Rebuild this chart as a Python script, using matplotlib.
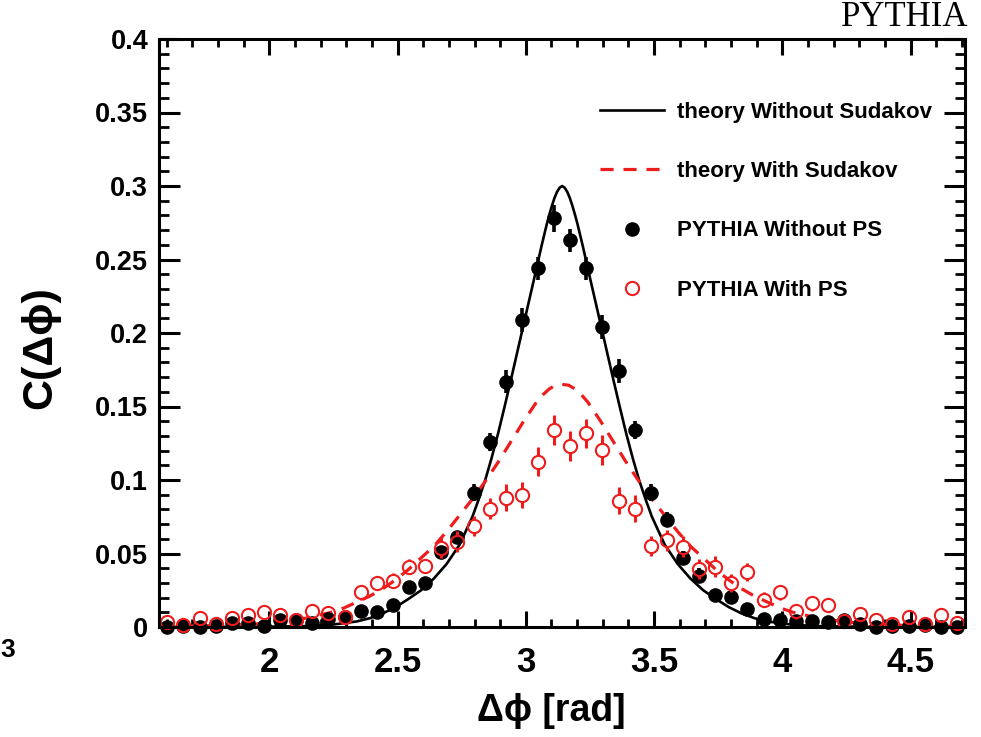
import numpy as np
import matplotlib
matplotlib.use("Agg")
import matplotlib.pyplot as plt
from matplotlib.lines import Line2D
from matplotlib.ticker import MultipleLocator, FixedLocator

# ---------------- data ----------------
n_bins = 50
bin_edges = np.linspace(np.pi / 2, 3 * np.pi / 2, n_bins + 1)
bin_centers = 0.5 * (bin_edges[:-1] + bin_edges[1:])

pythia_no_ps = [0.0003, 0.0007, 0.0000, 0.0005, 0.0025, 0.0027, 0.0010, 0.0048, 0.0048, 0.0030,
                0.0055, 0.0070, 0.0110, 0.0105, 0.0150, 0.0270, 0.0300, 0.0510, 0.0614, 0.0914,
                0.1260, 0.1670, 0.2090, 0.2440, 0.2780, 0.2630, 0.2440, 0.2040, 0.1740, 0.1340,
                0.0914, 0.0730, 0.0470, 0.0350, 0.0215, 0.0205, 0.0120, 0.0057, 0.0048, 0.0040,
                0.0038, 0.0036, 0.0050, 0.0020, 0.0003, 0.0007, 0.0007, 0.0014, 0.0002, 0.0002]
pythia_no_ps_err = [0.002, 0.002, 0.002, 0.002, 0.002, 0.002, 0.002, 0.002, 0.002, 0.002,
                    0.002, 0.002, 0.003, 0.003, 0.003, 0.003, 0.003, 0.004, 0.004, 0.006,
                    0.006, 0.008, 0.008, 0.008, 0.009, 0.008, 0.008, 0.008, 0.008, 0.006,
                    0.006, 0.005, 0.005, 0.005, 0.003, 0.003, 0.003, 0.002, 0.002, 0.002,
                    0.002, 0.002, 0.002, 0.002, 0.002, 0.002, 0.002, 0.002, 0.002, 0.002]

pythia_ps = [0.0036, 0.0014, 0.0060, 0.0020, 0.0060, 0.0080, 0.0104, 0.0080, 0.0050, 0.0110,
             0.0095, 0.0070, 0.0235, 0.0300, 0.0315, 0.0410, 0.0415, 0.0540, 0.0580, 0.0687,
             0.0805, 0.0880, 0.0898, 0.1125, 0.1340, 0.1230, 0.1317, 0.1204, 0.0860, 0.0805,
             0.0550, 0.0590, 0.0546, 0.0395, 0.0410, 0.0300, 0.0376, 0.0186, 0.0235, 0.0107,
             0.0160, 0.0150, 0.0040, 0.0088, 0.0048, 0.0020, 0.0070, 0.0020, 0.0080, 0.0025]
pythia_ps_err = [0.004, 0.004, 0.004, 0.004, 0.004, 0.004, 0.004, 0.004, 0.004, 0.004,
                 0.004, 0.004, 0.005, 0.005, 0.005, 0.005, 0.005, 0.007, 0.007, 0.007,
                 0.007, 0.009, 0.009, 0.010, 0.010, 0.010, 0.010, 0.010, 0.009, 0.009,
                 0.007, 0.007, 0.007, 0.007, 0.007, 0.006, 0.006, 0.005, 0.005, 0.005,
                 0.005, 0.005, 0.004, 0.004, 0.004, 0.004, 0.004, 0.004, 0.004, 0.004]

# theory curves: offset from pi (symmetric) and value
theory_no_sud_d = [0.0, 0.01, 0.02, 0.03, 0.04, 0.05, 0.06, 0.08, 0.10, 0.125, 0.15, 0.175, 0.20, 0.225,
                   0.25, 0.275, 0.30, 0.325, 0.35, 0.40, 0.45, 0.50, 0.55, 0.60, 0.65, 0.70,
                   0.75, 0.80, 0.90, 1.00, 1.20, 1.5708]
theory_no_sud = [0.300, 0.2988, 0.2960, 0.2918, 0.2865, 0.2805, 0.2740, 0.2595, 0.2440, 0.2250, 0.2060, 0.1870,
                 0.1680, 0.1495, 0.1315, 0.1150, 0.1000, 0.0870, 0.0750, 0.0560, 0.0430, 0.0330, 0.0250,
                 0.0190, 0.0135, 0.0092, 0.0060, 0.0038, 0.0015, 0.0006, 0.0001, 0.0]

theory_sud_d = [0.0, 0.025, 0.05, 0.075, 0.10, 0.15, 0.20, 0.25, 0.30, 0.35, 0.40, 0.45, 0.50,
                0.55, 0.60, 0.65, 0.70, 0.75, 0.80, 0.85, 0.90, 1.00, 1.10, 1.20, 1.35, 1.5708]
theory_sud = [0.165, 0.1645, 0.162, 0.158, 0.153, 0.140, 0.126, 0.112, 0.099, 0.087, 0.076, 0.065, 0.055,
              0.047, 0.039, 0.032, 0.026, 0.021, 0.017, 0.013, 0.010, 0.006, 0.0035, 0.002, 0.001, 0.0003]

x_ticks = [2, 2.5, 3, 3.5, 4, 4.5]
x_tick_labels = ["2", "2.5", "3", "3.5", "4", "4.5"]
y_ticks = [0, 0.05, 0.1, 0.15, 0.2, 0.25, 0.3, 0.35, 0.4]
y_tick_labels = ["0", "0.05", "0.1", "0.15", "0.2", "0.25", "0.3", "0.35", "0.4"]

RED = "#ee1c1c"

# ---------------- figure ----------------
W_PX, H_PX = 981, 737
fig = plt.figure(figsize=(W_PX / 100, H_PX / 100), dpi=100)
ax_l, ax_r, ax_t, ax_b = 159.3, 965.0, 39.0, 627.0
ax = fig.add_axes([ax_l / W_PX, 1 - ax_b / H_PX, (ax_r - ax_l) / W_PX, (ax_b - ax_t) / H_PX])
ax.set_xlim(np.pi / 2, 3 * np.pi / 2)
ax.set_ylim(0, 0.4)

bold_sans = ["Liberation Sans", "DejaVu Sans"]

def mirror(d, v):
    d = np.asarray(d)
    v = np.asarray(v)
    x = np.concatenate([np.pi - d[::-1], np.pi + d[1:]])
    y = np.concatenate([v[::-1], v[1:]])
    return x, y

DASH = (0, (4.1, 3.1))
xb, yb = mirror(theory_no_sud_d, theory_no_sud)
xr, yr = mirror(theory_sud_d, theory_sud)
ax.plot(xb, yb, color="black", lw=1.9, zorder=3, solid_joinstyle="round")
ax.plot(xr, yr, color=RED, lw=2.3, ls=DASH, zorder=3)

# markers
px_per_unit_y = (ax_b - ax_t) / 0.4
r_px = 6.3
gap = r_px / px_per_unit_y

yk = np.asarray(pythia_no_ps)
ek = np.asarray(pythia_no_ps_err)
ax.vlines(bin_centers, yk - ek, yk + ek, color="black", lw=2.6, zorder=4)
ax.plot(bin_centers, yk, "o", color="black", ms=9.5, zorder=5, clip_on=False)

yp = np.asarray(pythia_ps)
ep = np.asarray(pythia_ps_err)
up_lo = yp + gap
up_hi = np.maximum(yp + ep, up_lo)
dn_hi = yp - gap
dn_lo = np.minimum(yp - ep, dn_hi)
ax.vlines(bin_centers, up_lo, up_hi, color=RED, lw=2.2, zorder=6)
ax.vlines(bin_centers, dn_lo, dn_hi, color=RED, lw=2.2, zorder=6)
ax.plot(bin_centers, yp, "o", mfc="none", mec=RED, mew=1.5, ms=9.5, zorder=7, clip_on=False)

# axes style (ROOT-like)
for s in ax.spines.values():
    s.set_linewidth(2.2)
    s.set_zorder(8)
ax.xaxis.set_major_locator(FixedLocator(x_ticks))
ax.xaxis.set_minor_locator(MultipleLocator(0.1))
ax.yaxis.set_major_locator(FixedLocator(y_ticks))
ax.yaxis.set_minor_locator(MultipleLocator(0.01))
ax.set_xticklabels(x_tick_labels)
ax.set_yticklabels(y_tick_labels)
ax.tick_params(axis="x", which="major", direction="in", length=11.5, width=2.2, top=True, bottom=True, pad=14)
ax.tick_params(axis="x", which="minor", direction="in", length=5.8, width=2.0, top=True, bottom=True)
ax.tick_params(axis="y", which="major", direction="in", length=15, width=2.2, left=True, right=True, pad=8)
ax.tick_params(axis="y", which="minor", direction="in", length=7.5, width=2.0, left=True, right=True)
for lab in ax.get_xticklabels():
    lab.set_family(bold_sans)
    lab.set_fontweight("bold")
    lab.set_fontsize(25)
for lab in ax.get_yticklabels():
    lab.set_family(bold_sans)
    lab.set_fontweight("bold")
    lab.set_fontsize(19.5)

ax.set_xlabel("Δϕ [rad]", fontsize=27, fontweight="bold", family=bold_sans, labelpad=10)
ax.xaxis.label.set_x(0.486)
ax.set_ylabel("C(Δϕ)", fontsize=31, fontweight="bold", family=bold_sans, labelpad=25)
ax.yaxis.label.set_y(0.476)

handles = [
    Line2D([], [], color="black", lw=1.9),
    Line2D([], [], color=RED, lw=2.3, ls=DASH),
    Line2D([], [], ls="none", marker="o", color="black", ms=9.5),
    Line2D([], [], ls="none", marker="o", mfc="none", mec=RED, mew=1.5, ms=9.5),
]
labels = ["theory Without Sudakov", "theory With Sudakov", "PYTHIA Without PS", "PYTHIA With PS"]
leg = ax.legend(handles, labels, loc="upper left",
                bbox_to_anchor=((600 - ax_l) / (ax_r - ax_l), (ax_b - 102) / (ax_b - ax_t)),
                frameon=False, borderpad=0, borderaxespad=0, handlelength=2.9, handletextpad=0.55,
                labelspacing=1.72, prop={"family": bold_sans, "weight": "bold", "size": 16})
leg.set_zorder(9)

fig.text(968 / W_PX, 1 - 18 / H_PX, "PYTHIA", ha="right", va="center", fontsize=25,
         family=["Liberation Serif", "DejaVu Serif"])
fig.text(0.5 / W_PX, 1 - 650 / H_PX, "3", ha="left", va="center", fontsize=19, fontweight="bold",
         family=bold_sans)

fig.savefig("out.png", dpi=100)
